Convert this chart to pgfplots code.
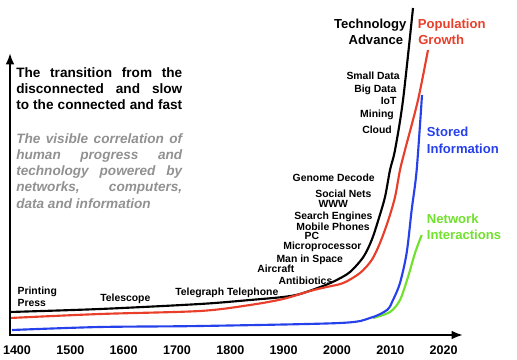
\documentclass[border=0pt]{standalone}
\usepackage{fontspec}
\setmainfont{Liberation Sans}
\usepackage{pgfplots}
\pgfplotsset{compat=1.18}
\usetikzlibrary{arrows.meta}
\definecolor{cred}{RGB}{232,62,42}
\definecolor{cblue}{RGB}{38,64,235}
\definecolor{cgreen}{RGB}{112,225,45}
\definecolor{cgray}{RGB}{145,145,145}
\begin{document}
\begin{tikzpicture}
\begin{axis}[at={(0,0)},anchor=south west,scale only axis,
  width=348pt,height=251.25pt,
  xmin=-0.2,xmax=8.5,ymin=0,ymax=335,
  axis line style={draw=none},major tick length=0pt,
  ytick=\empty,xtick={0,1,2,3,4,5,6,7,8},
  xticklabels={1400,1500,1600,1700,1800,1900,2000,2010,2020},
  xticklabel style={font=\fontsize{9.4}{11}\selectfont\bfseries,yshift=-4.4pt},
  /pgf/number format/assume math mode=true,
  clip=false,
  every axis plot/.append style={line width=1.6pt,smooth,tension=0.5}]
% Technology Advance
\addplot[black] coordinates {(-0.131,23) (1.556,26) (3.431,31) (4.369,35) (4.988,38) (5.306,41) (5.738,49) (5.994,55) (6.244,63) (6.494,78) (6.651,95) (6.775,115) (6.900,138) (6.994,165) (7.088,185) (7.238,235) (7.425,327)};
% Population Growth
\addplot[cred] coordinates {(-0.131,17) (1.556,21) (3.431,24) (4.369,30) (4.988,36) (5.494,44) (5.806,48) (6.118,52) (6.431,62) (6.651,75) (6.806,92) (6.963,115) (7.088,138) (7.181,165) (7.275,185) (7.519,235) (7.706,285)};
% Network Interactions
\addplot[cgreen] coordinates {(6.675,17) (6.994,23) (7.181,35) (7.331,58) (7.463,82) (7.588,100)};
% Stored Information
\addplot[cblue] coordinates {(-0.094,5) (1.556,8) (3.431,9) (6.056,12) (6.619,17) (6.938,25) (7.050,35) (7.181,52) (7.306,82) (7.400,125) (7.494,165) (7.594,240)};
\end{axis}
\begin{scope}[x=0.75pt,y=-0.75pt,shift={(-6.333,-335)},
  lab/.style={inner sep=0pt,font=\fontsize{7.8}{9}\selectfont\bfseries},
  big/.style={inner sep=0pt,font=\fontsize{9.8}{12}\selectfont\bfseries},
  blk/.style={inner sep=0pt,anchor=base west,font=\fontsize{10.2}{12}\selectfont\bfseries},
  gblk/.style={inner sep=0pt,anchor=base west,text=cgray,font=\fontsize{10.2}{12}\selectfont\bfseries\itshape}]
\draw[line width=1.5pt,-{Latex[length=8.5pt,width=6.5pt]}] (10,336) -- (10,53);
\draw[line width=1.5pt,-{Latex[length=8.5pt,width=6.5pt]}] (9,335) -- (463,335);
% text blocks
\node[blk] at (16,77.3) {\makebox[124.5pt][s]{The transition from the}};
\node[blk] at (16,93.3) {\makebox[124.5pt][s]{disconnected and slow}};
\node[blk] at (16,109.3) {\makebox[124.5pt][s]{to the connected and fast}};
\node[gblk] at (16,143.3) {\makebox[124.5pt][s]{The visible correlation of}};
\node[gblk] at (16,159.5) {\makebox[124.5pt][s]{human progress and}};
\node[gblk] at (16,175.7) {\makebox[124.5pt][s]{technology powered by}};
\node[gblk] at (16,191.9) {\makebox[124.5pt][s]{networks, computers,}};
\node[gblk] at (16,208.2) {data and information};
% series names
\node[big,anchor=base east] at (406.7,28.3) {Technology};
\node[big,anchor=base east] at (403.3,44.3) {Advance};
\node[big,anchor=base west,text=cred] at (417.7,28.3) {Population};
\node[big,anchor=base west,text=cred] at (418,44.3) {Growth};
\node[big,anchor=base west,text=cblue] at (426.7,136.7) {Stored};
\node[big,anchor=base west,text=cblue] at (426.7,153.3) {Information};
\node[big,anchor=base west,text=cgreen] at (426.7,223.3) {Network};
\node[big,anchor=base west,text=cgreen] at (426.7,240) {Interactions};
% milestones
\node[lab,anchor=base east] at (400,80) {Small Data};
\node[lab,anchor=base east] at (396.7,92.3) {Big Data};
\node[lab,anchor=base east] at (396.7,104.3) {IoT};
\node[lab,anchor=base east] at (394,117.3) {Mining};
\node[lab,anchor=base east] at (392,133.3) {Cloud};
\node[lab,anchor=base east] at (375,181.7) {Genome Decode};
\node[lab,anchor=base east] at (371.7,197.7) {Social Nets};
\node[lab,anchor=base east] at (348.3,207.3) {WWW};
\node[lab,anchor=base east] at (372.7,220) {Search Engines};
\node[lab,anchor=base east] at (370,231) {Mobile Phones};
\node[lab,anchor=base west] at (304.3,240) {PC};
\node[lab,anchor=base east] at (361.7,249.5) {Microprocessor};
\node[lab,anchor=base east] at (343.3,262.7) {Man in Space};
\node[lab,anchor=base west] at (257,272.7) {Aircraft};
\node[lab,anchor=base west] at (278.3,285) {Antibiotics};
\node[lab,anchor=base west] at (175,296) {Telegraph Telephone};
\node[lab,anchor=base west] at (100,301.7) {Telescope};
\node[lab,anchor=base west] at (17.3,295) {Printing};
\node[lab,anchor=base west] at (17.3,306.7) {Press};
\pgfresetboundingbox
\path[use as bounding box] (0,0) rectangle (517,360);
\end{scope}
\end{tikzpicture}
\end{document}
